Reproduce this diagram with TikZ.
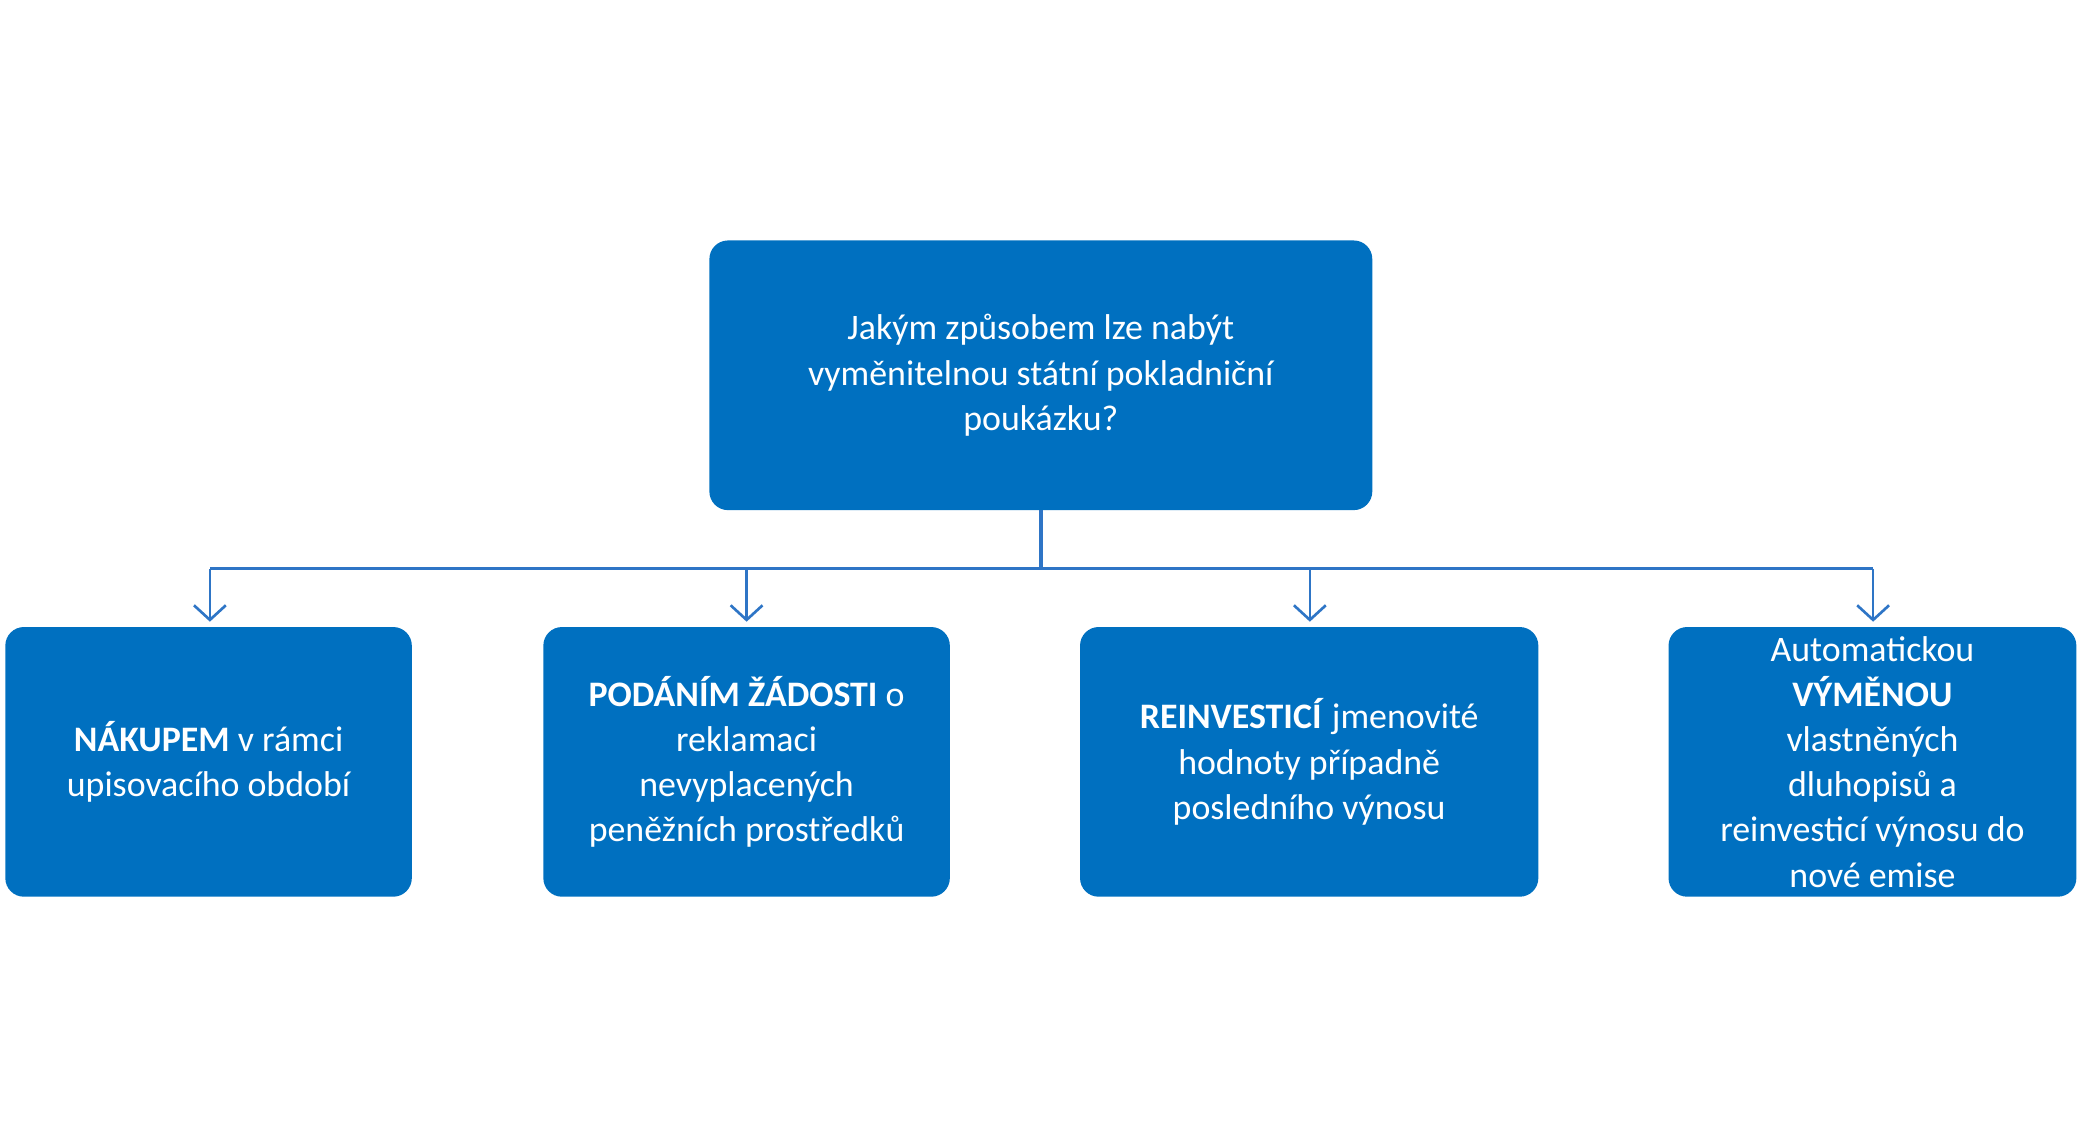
\documentclass[tikz,border=0pt]{standalone}
\usepackage{fontspec}
\setmainfont{Carlito}
\usetikzlibrary{arrows.meta}
\definecolor{boxblue}{HTML}{0070C0}
\definecolor{linkblue}{HTML}{2E75C6}
\begin{document}
\begin{tikzpicture}[x=1pt,y=-1pt,
  box/.style={fill=boxblue,draw=none,rounded corners=14pt,text=white,align=center,inner sep=0pt,
    font=\fontsize{27}{34}\selectfont},
  link/.style={draw=linkblue,line width=2pt,-{Straight Barb[length=11pt,width=24pt,line width=2pt]}}]
\useasboundingbox (0,0) rectangle (1568,856);
\node[box,minimum width=499pt,minimum height=203pt] (top) at (783.5,282.5) {Jakým způsobem lze nabýt\\vyměnitelnou státní pokladniční\\poukázku?};
\node[box,minimum width=306pt,minimum height=203pt] (b1) at (157,573.5) {\textbf{NÁKUPEM} v rámci\\upisovacího období};
\node[box,minimum width=306pt,minimum height=203pt] (b2) at (562,573.5) {\textbf{PODÁNÍM ŽÁDOSTI} o\\reklamaci\\nevyplacených\\peněžních prostředků};
\node[box,minimum width=345pt,minimum height=203pt] (b3) at (985.5,573.5) {\textbf{REINVESTICÍ} jmenovité\\hodnoty případně\\posledního výnosu};
\node[box,minimum width=307pt,minimum height=203pt] (b4) at (1409.5,573.5) {Automatickou\\\textbf{VÝMĚNOU}\\vlastněných\\dluhopisů a\\reinvesticí výnosu do\\nové emise};
\coordinate (j) at (783.5,428);
\draw[draw=linkblue,line width=2.5pt] (top.south) -- (j);
\draw[draw=linkblue,line width=2pt] (158,428) -- (1410,428);
\foreach \n/\x in {b1/158,b2/562,b3/986,b4/1410}{
  \coordinate (c\n) at (\x,428);
  \draw[link] (c\n) -- (\x,468);
}
\end{tikzpicture}
\end{document}
